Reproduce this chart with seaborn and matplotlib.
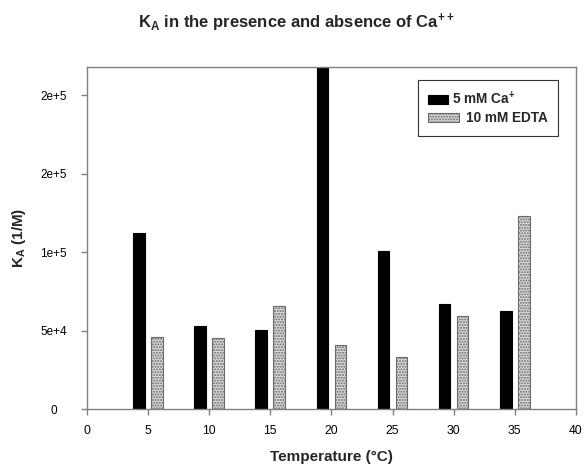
import matplotlib
matplotlib.use("Agg")
import matplotlib.pyplot as plt
import seaborn as sns
import pandas as pd
from matplotlib.ticker import FixedLocator, FixedFormatter
from matplotlib.legend_handler import HandlerPatch
from matplotlib.patches import Rectangle
from matplotlib.transforms import ScaledTranslation

# Data
temperatures = [5, 10, 15, 20, 25, 30, 35]
ca_values = [112000, 53000, 50500, 225000, 101000, 67200, 62500]
edta_values = [46000, 45500, 65500, 41000, 33500, 59200, 123200]
series_names = ["5 mM Ca$^{+}$", "10 mM EDTA"]
ytick_values = [0, 50000, 100000, 150000, 200000]
ytick_labels = ["0", "5e+4", "1e+5", "2e+5", "2e+5"]
xtick_values = [0, 5, 10, 15, 20, 25, 30, 35, 40]

df = pd.DataFrame({
    "Temperature": temperatures * 2,
    "KA": ca_values + edta_values,
    "Series": [series_names[0]] * len(temperatures) + [series_names[1]] * len(temperatures),
})

sns.set_style("white")
plt.rcParams["font.family"] = ["Liberation Sans", "DejaVu Sans"]
plt.rcParams["mathtext.fontset"] = "custom"
plt.rcParams["mathtext.rm"] = "Liberation Sans:bold"
plt.rcParams["mathtext.it"] = "Liberation Sans:bold"
plt.rcParams["mathtext.bf"] = "Liberation Sans:bold"

fig = plt.figure(figsize=(5.84, 4.67), dpi=100)
ax = fig.add_axes([0.149, 0.1236, 0.837, 0.733])

palette = {series_names[0]: "black", series_names[1]: "#dadada"}
sns.barplot(data=df, x="Temperature", y="KA", hue="Series", palette=palette,
            native_scale=True, width=0.59, gap=0.35, dodge=True,
            errorbar=None, ax=ax, legend=False, saturation=1)

for bar in ax.containers[0]:
    bar.set_edgecolor("black")
    bar.set_linewidth(0.8)
for bar in ax.containers[1]:
    bar.set_edgecolor("#6a6a6a")
    bar.set_hatch("......")
    bar.set_linewidth(0.8)

ax.set_xlim(0, 40)
ax.set_ylim(0, 218000)
ax.xaxis.set_major_locator(FixedLocator(xtick_values))
ax.set_xticklabels([str(v) for v in xtick_values], fontsize=8.8)
ax.yaxis.set_major_locator(FixedLocator(ytick_values))
ax.yaxis.set_major_formatter(FixedFormatter(ytick_labels))

for sp in ax.spines.values():
    sp.set_color("#808080")
    sp.set_linewidth(1.0)
ax.tick_params(axis="x", which="major", direction="out", length=4,
               width=1.0, color="#808080", pad=7, labelcolor="black",
               bottom=True)
ax.tick_params(axis="y", which="major", direction="out", length=4,
               width=1.0, color="#808080", pad=20, labelcolor="black",
               left=True, labelsize=8.5)
for lbl in ax.get_yticklabels():
    lbl.set_horizontalalignment("center")

ax.set_xlabel("Temperature (°C)", fontsize=11, fontweight="bold", labelpad=10)
ax.set_ylabel(r"K$_\mathrm{A}$ (1/M)", fontsize=11, fontweight="bold", labelpad=9)
fig.text(0.507, 1 - 28.5 / 467, r"K$_\mathrm{A}$ in the presence and absence of Ca$^{++}$",
         ha="center", va="baseline", fontsize=12, fontweight="bold")


def narrow_patch(legend, orig_handle, xdescent, ydescent, width, height, fontsize):
    return Rectangle((-xdescent, -ydescent), width * 0.65, height)


handles = [ax.containers[0][0], ax.containers[1][0]]
leg = ax.legend(handles, series_names, loc="upper right",
                bbox_to_anchor=(0.9636, 0.962), frameon=True, fancybox=False,
                prop={"weight": "bold", "size": 9.8}, handlelength=2.28,
                handleheight=0.59, handletextpad=0.51, borderpad=0.74,
                labelspacing=0.3, borderaxespad=0,
                handler_map={handles[0]: HandlerPatch(patch_func=narrow_patch)})
leg.get_frame().set_edgecolor("black")
leg.get_frame().set_linewidth(0.8)
t0 = leg.get_texts()[0]
t0.set_transform(t0.get_transform() + ScaledTranslation(-14.3 / 100, 0, fig.dpi_scale_trans))

fig.savefig("out.png", dpi=100)
